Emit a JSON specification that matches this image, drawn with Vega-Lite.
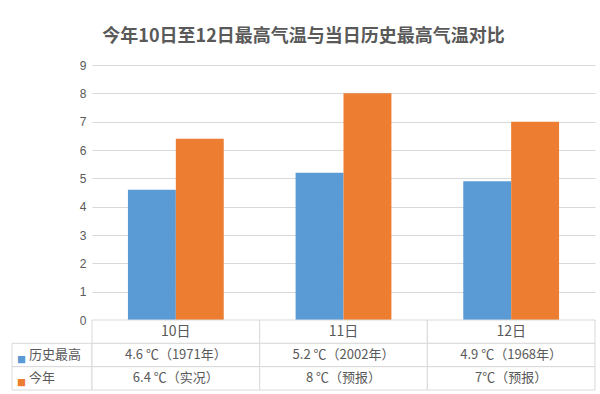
{
  "$schema": "https://vega.github.io/schema/vega-lite/v6.json",
  "padding": {"left": 11, "top": 28, "right": 6, "bottom": 2},
  "background": "white",
  "title": {
    "text": "今年10日至12日最高气温与当日历史最高气温对比",
    "fontSize": 18,
    "font": "Noto Sans CJK SC",
    "color": "#595959",
    "fontWeight": "bold",
    "anchor": "middle",
    "offset": 13
  },
  "config": {"view": {"stroke": null}, "font": "Noto Sans CJK SC"},
  "datasets": {
    "bars": [
      {"day": "10日", "series": "历史最高", "value": 4.6},
      {"day": "10日", "series": "今年", "value": 6.4},
      {"day": "11日", "series": "历史最高", "value": 5.2},
      {"day": "11日", "series": "今年", "value": 8},
      {"day": "12日", "series": "历史最高", "value": 4.9},
      {"day": "12日", "series": "今年", "value": 7}
    ],
    "table": [
      {"day": "10日", "row": "header", "text": "10日"},
      {"day": "11日", "row": "header", "text": "11日"},
      {"day": "12日", "row": "header", "text": "12日"},
      {"day": "10日", "row": "历史最高", "text": "4.6 ℃（1971年）"},
      {"day": "11日", "row": "历史最高", "text": "5.2 ℃（2002年）"},
      {"day": "12日", "row": "历史最高", "text": "4.9 ℃（1968年）"},
      {"day": "10日", "row": "今年", "text": "6.4 ℃（实况）"},
      {"day": "11日", "row": "今年", "text": "8 ℃（预报）"},
      {"day": "12日", "row": "今年", "text": "7℃（预报）"}
    ],
    "labels": [
      {"col": "label", "row": "历史最高", "series": "历史最高"},
      {"col": "label", "row": "今年", "series": "今年"}
    ]
  },
  "spacing": 80,
  "bounds": "flush",
  "hconcat": [
    {
      "spacing": 0,
      "bounds": "flush",
      "vconcat": [
        {
          "width": 80,
          "height": 255,
          "data": {"values": [{"blank": ""}]},
          "mark": {"type": "text"},
          "encoding": {"text": {"field": "blank"}}
        },
        {
          "width": 80,
          "height": 70,
          "data": {"name": "labels"},
          "encoding": {
            "y": {"field": "row", "type": "nominal", "axis": null, "scale": {"domain": ["header", "历史最高", "今年"], "paddingInner": 0, "paddingOuter": 0}}
          },
          "layer": [
            {"mark": {"type": "rect", "fill": "white", "stroke": "#d9d9d9", "strokeWidth": 1}},
            {
              "mark": {"type": "text", "text": "■", "align": "left", "baseline": "middle", "fontSize": 9, "dx": 5, "dy": 5},
              "encoding": {
                "x": {"field": "col", "type": "nominal", "axis": null, "bandPosition": 0, "scale": {"type": "band", "paddingInner": 0, "paddingOuter": 0}},
                "color": {"field": "series", "type": "nominal", "scale": {"domain": ["历史最高", "今年"], "range": ["#5B9BD5", "#ED7D31"]}, "legend": null}
              }
            },
            {
              "mark": {"type": "text", "align": "left", "baseline": "middle", "fontSize": 13, "dx": 17, "color": "#595959"},
              "encoding": {
                "x": {"field": "col", "type": "nominal", "axis": null, "bandPosition": 0, "scale": {"type": "band", "paddingInner": 0, "paddingOuter": 0}},
                "text": {"field": "row"}
              }
            }
          ]
        }
      ]
    },
    {
      "spacing": 0,
      "bounds": "flush",
      "vconcat": [
        {
          "width": 503,
          "height": 255,
          "data": {"name": "bars"},
          "mark": {"type": "bar"},
          "encoding": {
            "x": {"field": "day", "type": "nominal", "axis": null, "scale": {"paddingInner": 0.4286, "paddingOuter": 0.2143}},
            "xOffset": {"field": "series", "type": "nominal", "sort": ["历史最高", "今年"], "scale": {"paddingInner": 0, "paddingOuter": 0}},
            "y": {
              "field": "value",
              "type": "quantitative",
              "scale": {"domain": [0, 9], "nice": false},
              "axis": {
                "values": [0, 1, 2, 3, 4, 5, 6, 7, 8, 9],
                "title": null,
                "domain": false,
                "ticks": false,
                "labelPadding": 6,
                "gridColor": "#d9d9d9",
                "labelColor": "#595959",
                "labelFontSize": 12,
                "labelFont": "Liberation Sans"
              }
            },
            "color": {"field": "series", "type": "nominal", "scale": {"domain": ["历史最高", "今年"], "range": ["#5B9BD5", "#ED7D31"]}, "legend": null}
          }
        },
        {
          "width": 503,
          "height": 70,
          "data": {"name": "table"},
          "encoding": {
            "x": {"field": "day", "type": "nominal", "axis": null, "scale": {"paddingInner": 0, "paddingOuter": 0}},
            "y": {"field": "row", "type": "nominal", "axis": null, "scale": {"domain": ["header", "历史最高", "今年"], "paddingInner": 0, "paddingOuter": 0}}
          },
          "layer": [
            {"mark": {"type": "rect", "fill": "white", "stroke": "#d9d9d9", "strokeWidth": 1}},
            {
              "mark": {"type": "text", "baseline": "middle", "color": "#595959"},
              "encoding": {
                "text": {"field": "text"},
                "size": {"condition": {"test": "datum.row === 'header'", "value": 14}, "value": 13}
              }
            }
          ]
        }
      ]
    }
  ]
}
